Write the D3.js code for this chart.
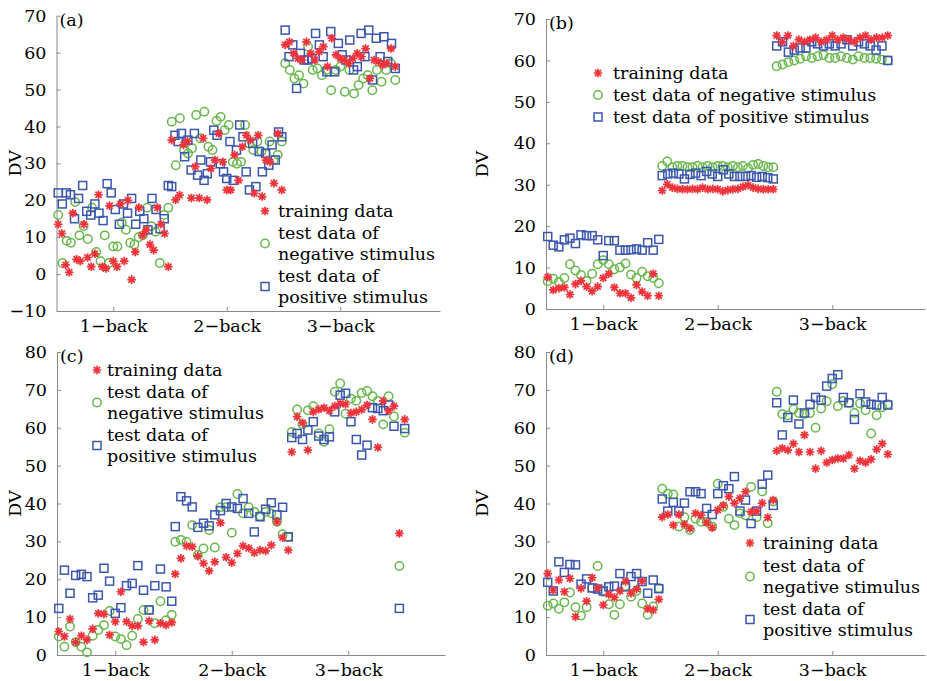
<!DOCTYPE html>
<html lang="en">
<head>
<meta charset="UTF-8" />
<title>DV by n-back condition</title>
<style>
  html, body { margin: 0; background: #fff; }
  svg text { font-family: "DejaVu Serif", serif; fill: #000; }
  .axis path, .axis line { stroke: #8a8a8a; }
  .axis text { font-family: "DejaVu Serif", serif; }
</style>
</head>
<body>
<svg id="chart" width="927" height="681"></svg>
<script src="https://cdn.jsdelivr.net/npm/d3@7/dist/d3.min.js"></script>
<script>
// categories
const groups = ["1−back", "2−back", "3−back"];

// panel (a): one inner array per group (1-back, 2-back, 3-back)
const aTrain = [
  [13.5, 11, 2.5, 0.5, 16.5, 4, 3.5, 13.5, 4.5, 2, 5.5, 21.5, 2, 1.5, 18.5, 3.5, 2, 19, 3.5, 20, -1.5, 6, 18, 10.5, 12, 8, 6.5, 18, 13.5, 11, 2],
  [36.3, 20.1, 21.4, 35, 36, 20.6, 29.1, 20.6, 36.8, 20.1, 28.6, 30.9, 38.1, 30.4, 22.8, 22.8, 32.3, 25.4, 34.5, 37.6, 36.3, 21.9, 37.6, 21, 30.9, 30.4, 24.6, 38.1, 22.8],
  [62.1, 62.9, 59.8, 58.4, 58, 62.9, 59.8, 58, 60.2, 61.6, 56.2, 63.9, 59.4, 58.4, 58, 57.1, 58.4, 59.8, 58.9, 61.1, 53, 58, 57.6, 56.6, 57.1, 61.1, 56.2]
];
const aNeg = [
  [16, 3, 9, 8.5, 19.5, 10.5, 13, 9.5, 18, 6, 3.5, 10.5, 3, 7.5, 7.5, 14, 12, 8.5, 8, 10, 10.5, 18, 13, 11.5, 3, 16, 18],
  [41.3, 29.5, 42.2, 33.6, 32.7, 34.1, 43.1, 36.8, 44, 34.5, 33.6, 41.5, 42.6, 39, 40.4, 30.4, 29.9, 30.4, 40.4, 35.4, 33.6, 35.9, 33.2, 32.7, 35.9, 30.9, 32.3, 35.9],
  [57.1, 55.3, 53, 53.9, 51.6, 61.6, 55.3, 55.7, 53.9, 55.3, 49.8, 55.3, 56.2, 49.4, 55.3, 48.9, 51.2, 53, 53.9, 49.8, 55.3, 52.1, 55.3, 57.1, 52.6]
];
const aPos = [
  [22, 19, 22, 21.5, 15, 20.5, 24, 17, 16, 19, 16.5, 14.5, 24.5, 22, 17.5, 13.5, 19, 16.5, 20.5, 13.5, 17, 15, 12, 20.5, 17.5, 12.3, 15, 24],
  [23.7, 37.6, 35.9, 38.1, 31.8, 36.3, 28.2, 38.1, 26.8, 30.9, 25.4, 27.2, 30.4, 39, 37.6, 29.9, 27.7, 25.9, 35.9, 25.4, 33.6, 40.4, 37.2, 27.7, 22.8, 35.4, 23.7, 33.2, 27.7, 32.7, 29.5, 35, 30.9, 38.5, 37.2],
  [66.1, 58.9, 62.1, 50.3, 59.8, 58, 58, 58.4, 65.2, 62.1, 58.9, 54.8, 65.7, 54.8, 62.5, 59.4, 58, 63.4, 55.3, 56.2, 65.2, 58.9, 66.1, 52.6, 63.9, 58.9, 64.3, 57.6, 62.5, 55.7]
];

// panel (b)
const bTrain = [
  [7.7, 4.6, 5, 5.2, 3.5, 6, 6.8, 5.4, 4.3, 5.4, 7.5, 8.5, 5.2, 3.8, 3.8, 2.7, 5.8, 4.2, 3.2, 8.5, 3.2],
  [28.6, 30.1, 29.3, 29, 28.9, 28.9, 29, 28.9, 29.3, 28.9, 29, 28.9, 28.4, 28.7, 28.9, 29, 29.5, 29.9, 29.3, 29, 28.9, 28.9, 28.9],
  [66, 64.5, 66, 63.5, 65, 64.5, 65, 65.5, 64.5, 65, 66, 65, 65.5, 65, 64.5, 65.5, 66, 65, 65.5, 65.5, 66]
];
const bNeg = [
  [6.7, 7.3, 6.5, 7.5, 10.8, 9.3, 8.2, 6.8, 8.5, 10.8, 11.8, 10.8, 9.6, 10, 11, 8.3, 7.5, 9, 7.9, 7.5, 6.2],
  [34.5, 35.6, 34.2, 34.5, 34.5, 34.2, 34.2, 34.5, 34.2, 34.5, 34.2, 34.5, 34.5, 34.2, 34.5, 34.2, 34.5, 34, 34.8, 35, 34.5, 34.2, 34.2],
  [58.6, 59, 59.6, 60, 60.4, 61, 60.6, 61, 61.3, 60.6, 60.6, 61, 60.6, 60.2, 61, 60.6, 60.6, 60.4, 60.2, 60]
];
const bPos = [
  [17.5, 15.4, 15, 16.7, 17.1, 15.8, 17.9, 17.7, 17.7, 16.7, 12.9, 16.5, 16.5, 14.2, 14.2, 14.3, 14.5, 14.2, 16, 14.2, 16.8],
  [32.2, 32.6, 32.8, 32.6, 31.4, 32.5, 32.8, 32.2, 33.2, 32.6, 32, 33.6, 32.6, 32, 32, 32, 32.2, 31.8, 32, 31.7, 31.4],
  [63.5, 64.5, 62, 62.5, 63, 63, 64.5, 64, 63.5, 64, 63.5, 64, 65, 63.5, 64.5, 64, 63.5, 62.5, 63.5, 60]
];

// panel (c)
const cTrain = [
  [6.2, 4.9, 9.5, 3.4, 5.1, 4, 6.9, 11, 10.8, 5.3, 8.8, 16.7, 8.8, 7.7, 7.7, 3.4, 9, 4, 8.4, 7.9, 8.6],
  [21.4, 25.5, 28.8, 28.6, 26.1, 24.2, 22.2, 24.6, 34.9, 25.8, 24.4, 26.8, 28.8, 28.2, 27, 27.7, 27.5, 29, 35.2, 31, 27.7],
  [53.6, 62.9, 61.3, 54.1, 64.2, 64.8, 65.3, 64.5, 65.7, 66.4, 66.2, 63.9, 64.2, 64.8, 66, 62.2, 54.8, 67.1, 64.5, 65.7, 32.1, 62.2]
];
const cNeg = [
  [4.9, 2.2, 7.5, 3.4, 2.2, 0.7, 5.1, 6.6, 7.9, 11.6, 4.9, 4.2, 2.6, 5.1, 9.5, 11.9, 11.9, 8.4, 14.2, 9.2, 10.6],
  [29.9, 30.4, 29.9, 34.3, 26.4, 28.1, 33, 28.4, 39, 39, 32.3, 42.5, 37.4, 39, 37.8, 36.7, 37.8, 37.4, 35.2, 31.9, 31.2],
  [58.9, 64.8, 60.9, 64.6, 65.7, 58.5, 56.3, 59.6, 69.5, 71.7, 63.7, 67.7, 67.1, 69.2, 69.7, 68.3, 67.1, 60.9, 68.3, 63, 23.5, 58.7]
];
const cPos = [
  [12.3, 22.4, 16.3, 21, 21.3, 20.7, 15.1, 15.8, 22.9, 19.5, 11, 12.5, 18.3, 18.9, 23.6, 17.1, 11.9, 18.3, 22.7, 18, 14.2],
  [33.9, 41.8, 40.7, 39.1, 33.7, 34.8, 34.1, 37, 38.1, 40, 39.1, 38.7, 41.3, 37.4, 32.5, 36.5, 38.5, 40.2, 37, 39, 31.2],
  [57.4, 58.5, 56.9, 59.4, 61.6, 57.8, 56.9, 57.6, 64.2, 68.6, 69.1, 61.6, 56.9, 52.8, 55.4, 65.3, 65.1, 64.5, 66, 60.4, 12.3, 59.8]
];

// panel (d)
const dTrain = [
  [21.5, 17.1, 19.8, 16.7, 20.2, 10.1, 17.6, 14.2, 20.4, 17.7, 13.2, 16, 15.2, 16.9, 19.4, 16.3, 17.4, 19.5, 12.2, 11.9, 14.7],
  [36.4, 37.1, 34.3, 37.1, 34.5, 33.4, 37.4, 36.9, 35, 33.6, 38.3, 39.5, 41.8, 40.1, 41.4, 43.1, 37.8, 38, 40.1, 36.3, 40.9],
  [53.9, 54.6, 54.1, 55.8, 53.6, 58.1, 53.6, 49.2, 53.9, 50.8, 51.5, 51.9, 51.9, 52.8, 49.2, 51.3, 50.8, 51.7, 54.3, 55.8, 53]
];
const dNeg = [
  [13, 13.6, 12.2, 13.9, 16.5, 12.6, 10.4, 12.6, 17.7, 23.5, 16.7, 13.4, 10.6, 13.4, 18.2, 15.4, 16.9, 13.6, 10.6, 12.8, 17.7],
  [43.9, 42.6, 42.4, 33.9, 36.4, 33, 36, 35.2, 35.2, 33.9, 45.2, 39.1, 36, 34.3, 37.4, 36.9, 44.4, 36.4, 43.2, 34.8, 40.5],
  [69.5, 63.6, 63.3, 64.9, 63.9, 63.6, 63.9, 60, 65.1, 67, 71.5, 65.7, 67.1, 66.6, 63.9, 66.4, 64.6, 58.5, 63.3, 65.4, 66.2]
];
const dPos = [
  [19.2, 16.9, 24.6, 21.8, 23.9, 23.8, 18.7, 20.1, 17.7, 17.4, 16.9, 18, 18.2, 21.5, 18, 20.7, 21.5, 19.4, 16.3, 19.8, 17.5],
  [41.2, 38, 40.3, 38, 40.1, 43.1, 43.1, 42.6, 38.7, 37.1, 42.6, 44.7, 43.9, 47.1, 38, 40.9, 34.7, 38, 45.1, 47.5, 39.5],
  [66.6, 58.1, 62.7, 67.3, 61, 63.9, 66.2, 68, 67.3, 71, 73, 74, 68, 66.6, 62.2, 69, 66.8, 66.2, 66, 68, 66]
];

// y tick labels
const yTicksA = [-10, 0, 10, 20, 30, 40, 50, 60, 70];
const yTicksB = [0, 10, 20, 30, 40, 50, 60, 70];
const yTicksCD = [0, 10, 20, 30, 40, 50, 60, 70, 80];

const FS = "17.5px";

// layout of the four panels (pixels)
const panels = [
  { tag: "(a)", data: [aTrain, aNeg, aPos], yDom: [-10, 70], yTicks: yTicksA,
    x0: 56.5, unit: 113.5, x1: 440, top: 15.7, bottom: 311, dvX: 15,
    legend: { mx: 265, tx: 278, two: true, rows: [[211], [233, 254], [276, 297]] } },
  { tag: "(b)", data: [bTrain, bNeg, bPos], yDom: [0, 70], yTicks: yTicksB,
    x0: 546, unit: 114.5, x1: 925, top: 19, bottom: 309, dvX: 482,
    legend: { mx: 598, tx: 613, two: false, rows: [[73], [95], [117]] } },
  { tag: "(c)", data: [cTrain, cNeg, cPos], yDom: [0, 80], yTicks: yTicksCD,
    x0: 57, unit: 116.5, x1: 445, top: 352, bottom: 655, dvX: 15,
    legend: { mx: 97, tx: 107, two: true, rows: [[370], [392, 413], [435, 456]] } },
  { tag: "(d)", data: [dTrain, dNeg, dPos], yDom: [0, 80], yTicks: yTicksCD,
    x0: 546, unit: 114.5, x1: 925, top: 352, bottom: 655, dvX: 482,
    legend: { mx: 750, tx: 763, two: true, rows: [[543], [566, 587], [609, 630]] } }
];

const RED = "#f0333a", GREEN = "#67b84a", BLUE = "#3b56ad";
const svg = d3.select("#chart");

function drawMarker(g, kind, cx, cy) {
  if (kind === 0) {
    const s = 4.3, d = 3.1;
    g.append("path")
      .attr("d", `M${cx - s},${cy}H${cx + s}M${cx},${cy - s}V${cy + s}` +
                 `M${cx - d},${cy - d}L${cx + d},${cy + d}M${cx - d},${cy + d}L${cx + d},${cy - d}`)
      .attr("stroke", RED).attr("stroke-width", 1.7).attr("fill", "none");
  } else if (kind === 1) {
    g.append("circle").attr("cx", cx).attr("cy", cy).attr("r", 4.2)
      .attr("fill", "none").attr("stroke", GREEN).attr("stroke-width", 1.5);
  } else {
    g.append("rect").attr("x", cx - 4).attr("y", cy - 4).attr("width", 8).attr("height", 8)
      .attr("fill", "none").attr("stroke", BLUE).attr("stroke-width", 1.5);
  }
}

panels.forEach(p => {
  const xEnd = 0.5 + (p.x1 - p.x0) / p.unit;
  const x = d3.scaleLinear().domain([0.5, xEnd]).range([p.x0, p.x1]);
  const y = d3.scaleLinear().domain(p.yDom).range([p.bottom, p.top]);
  const g = svg.append("g");

  // axes, ticks pointing inward
  g.append("g").attr("class", "axis")
    .attr("transform", `translate(${p.x0},0)`)
    .call(d3.axisLeft(y).tickValues(p.yTicks).tickSizeInner(-4).tickSizeOuter(0).tickPadding(10))
    .call(a => a.selectAll("text").style("font-size", FS));
  g.append("g").attr("class", "axis")
    .attr("transform", `translate(0,${p.bottom})`)
    .call(d3.axisBottom(x).tickValues([1, 2, 3]).tickFormat(i => groups[i - 1])
      .tickSizeInner(-4).tickSizeOuter(0).tickPadding(9))
    .call(a => a.selectAll("text").style("font-size", FS));

  // DV label + panel tag
  g.append("text")
    .attr("transform", `translate(${p.dvX},${(p.top + p.bottom) / 2}) rotate(-90)`)
    .attr("text-anchor", "middle").attr("dominant-baseline", "central")
    .style("font-size", FS).text("DV");
  g.append("text").attr("x", p.x0 + 3).attr("y", p.top + 4)
    .attr("dominant-baseline", "central").style("font-size", FS).text(p.tag);

  // points: negative, positive, then training on top
  const marks = g.append("g");
  [1, 2, 0].forEach(s => {
    p.data[s].forEach((vals, gi) => {
      const n = vals.length;
      vals.forEach((v, j) => {
        const xv = (gi + 1) + (j / (n - 1) - 0.5) * 0.97;
        drawMarker(marks, s, x(xv), y(v));
      });
    });
  });

  // legend
  const lg = g.append("g");
  const lines = p.legend.two
    ? [["training data"], ["test data of", "negative stimulus"], ["test data of", "positive stimulus"]]
    : [["training data"], ["test data of negative stimulus"], ["test data of positive stimulus"]];
  p.legend.rows.forEach((ys, i) => {
    drawMarker(lg, i, p.legend.mx, d3.mean(ys));
    ys.forEach((ty, k) => {
      lg.append("text").attr("x", p.legend.tx).attr("y", ty)
        .attr("dominant-baseline", "central").style("font-size", FS)
        .text(lines[i][k]);
    });
  });
});
</script>
</body>
</html>
